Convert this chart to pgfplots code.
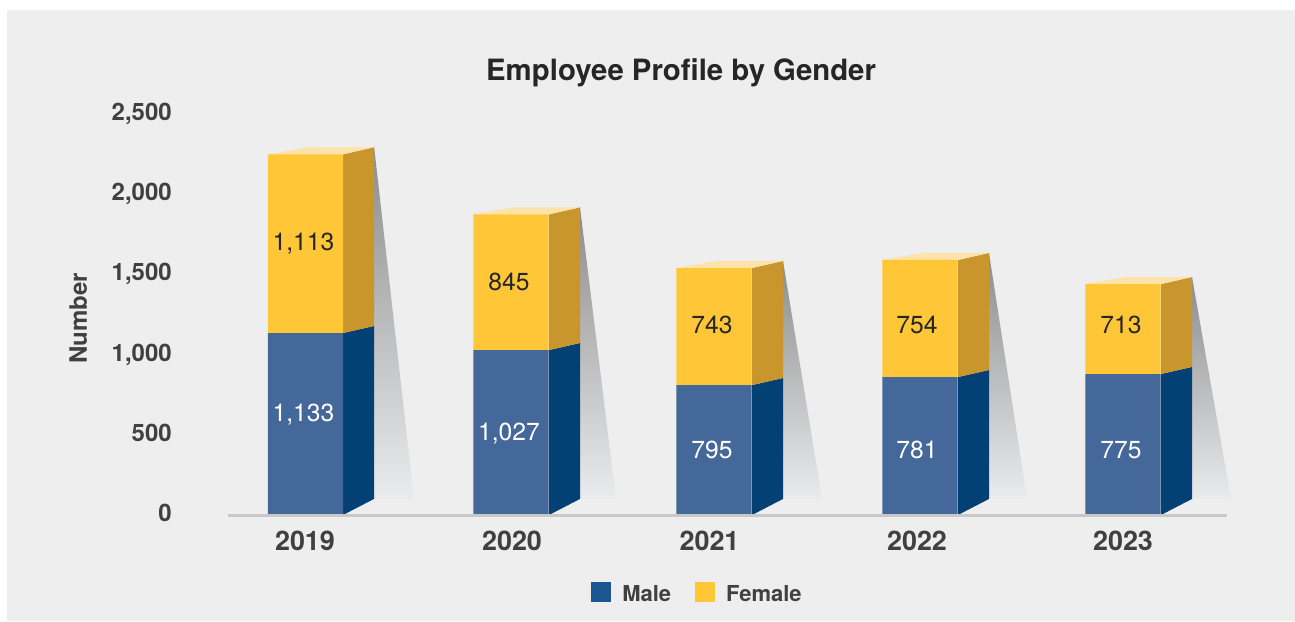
\documentclass[border=0pt]{standalone}
\usepackage{pgfplots}
\usepackage{pgfplotstable}
\usepackage{fontspec}
\setmainfont{TeX Gyre Heros}
\pgfplotsset{compat=1.18}
\definecolor{panel}{HTML}{EEEEEE}
\definecolor{maleface}{HTML}{44689A}
\definecolor{maleside}{HTML}{034074}
\definecolor{femface}{HTML}{FFC738}
\definecolor{femside}{HTML}{C8962C}
\definecolor{femtop}{HTML}{FDE3A9}
\definecolor{legblue}{HTML}{1A5791}
\definecolor{txt}{HTML}{404040}
\definecolor{axln}{HTML}{C8C8C8}
\pgfplotstableread{
x male female
305.5 1133 1113
511 1027 845
714 809 729
920 859 729
1123 878 560
}\bars
\pgfplotstableread{
x y label
303.5 635 1,133
509 517 1,027
712 405 795
917 405 781
1121 405 775
}\malelabels
\pgfplotstableread{
x y label
303.5 1700 1,113
509 1451 845
712 1183 743
917 1183 754
1121 1183 713
}\femlabels
\pgfplotsset{base/.style={
  at={(0,0)},anchor=origin,
  scale only axis,width=749.25pt,height=301.1pt,
  xmin=228,xmax=1227,ymin=0,ymax=2500,clip=false}}
\newcommand{\shadow}[1]{\addplot[draw=none,top color=shtop,middle color=shmid,bottom color=shbot] coordinates {#1} -- cycle;}
\colorlet{shtop}{black!45}
\colorlet{shmid}{black!25}
\definecolor{shbot}{HTML}{EAEBED}
\newcommand{\face}[2]{\addplot[draw=none,fill=#1] coordinates {#2} -- cycle;}
\begin{document}
\begin{tikzpicture}
\path[use as bounding box] (-171pt,-79.5pt) rectangle (800.25pt,386.25pt);
\fill[white] (-171pt,-79.5pt) rectangle (800.25pt,386.25pt);
\fill[panel] (-165.75pt,-79.5pt) rectangle (800.25pt,378.75pt);
\begin{axis}[base,hide axis]
\shadow{(374,2298) (414,100) (374,100)}
\shadow{(580,1916) (616,100) (580,100)}
\shadow{(783,1582) (822,100) (783,100)}
\shadow{(989,1632) (1027,100) (989,100)}
\shadow{(1192,1482) (1231,100) (1192,100)}
\face{maleside}{(343,0) (374,100) (374,1177) (343,1133)}
\face{femside}{(343,1133) (374,1177) (374,2290) (343,2246)}
\face{femtop}{(268,2246) (343,2246) (374,2290) (308,2290)}
\face{maleside}{(549,0) (580,100) (580,1071) (549,1027)}
\face{femside}{(549,1027) (580,1071) (580,1916) (549,1872)}
\face{femtop}{(473,1872) (549,1872) (580,1916) (513,1916)}
\face{maleside}{(752,0) (783,100) (783,853) (752,809)}
\face{femside}{(752,809) (783,853) (783,1582) (752,1538)}
\face{femtop}{(676,1538) (752,1538) (783,1582) (716,1582)}
\face{maleside}{(958,0) (989,100) (989,903) (958,859)}
\face{femside}{(958,859) (989,903) (989,1632) (958,1588)}
\face{femtop}{(882,1588) (958,1588) (989,1632) (922,1632)}
\face{maleside}{(1161,0) (1192,100) (1192,922) (1161,878)}
\face{femside}{(1161,878) (1192,922) (1192,1482) (1161,1438)}
\face{femtop}{(1085,1438) (1161,1438) (1192,1482) (1125,1482)}
\end{axis}
\begin{axis}[base,hide axis,ybar stacked,bar width=56.6pt]
\addplot[draw=none,fill=maleface] table[x=x,y=male] {\bars};
\addplot[draw=none,fill=femface] table[x=x,y=female] {\bars};
\end{axis}
\begin{axis}[base,
  axis x line=bottom,axis y line=left,
  x axis line style={-,draw=axln,line width=2pt,yshift=-0.3pt},
  y axis line style={draw=none},
  major tick length=0pt,
  /pgf/number format/assume math mode=true,
  ytick={0,500,1000,1500,2000,2500},
  yticklabels={0,500,{1,000},{1,500},{2,000},{2,500}},
  xtick={305,512,709.5,917,1123},
  xticklabels={2019,2020,2021,2022,2023},
  yticklabel style={font=\fontsize{18pt}{20pt}\selectfont\bfseries,text=txt,inner sep=0pt,text height=12.9pt,text depth=0pt,anchor=east,xshift=-42pt,yshift=1.4pt},
  xticklabel style={font=\fontsize{20.2pt}{22pt}\selectfont\bfseries,text=txt,inner sep=0pt,text height=14.4pt,text depth=0pt,anchor=north,yshift=-12pt},
  ylabel={Number},
  ylabel style={at={(rel axis cs:-0.15,0.49)},anchor=center,font=\fontsize{18pt}{20pt}\selectfont\bfseries,text=txt},
  title={Employee Profile by Gender},
  title style={at={(rel axis cs:0.4535,1.0634)},anchor=base,yshift=0pt,font=\fontsize{22pt}{24pt}\selectfont\bfseries,text=black!85},
  legend columns=2,
  legend cell align=left,
  legend style={at={(rel axis cs:0.3632,-0.197)},anchor=west,draw=none,fill=none,inner sep=0pt,
    font=\fontsize{16.5pt}{18pt}\selectfont\bfseries,text=txt,
    /tikz/every even column/.append style={column sep=15.7pt},
    /tikz/every odd column/.append style={column sep=6.75pt}},
]
\addlegendimage{legend image code/.code={\fill[legblue] (0,-5.25pt) rectangle (14.25pt,8.75pt);}}
\addlegendentry{Male}
\addlegendimage{legend image code/.code={\fill[femface] (0,-5.25pt) rectangle (14.25pt,8.75pt);}}
\addlegendentry{Female}
\addplot[forget plot,only marks,mark=none,nodes near coords,point meta=explicit symbolic,
  nodes near coords style={anchor=center,font=\fontsize{18.5pt}{20pt}\selectfont,text=white,inner sep=0pt,text height=13.3pt,text depth=0pt}]
  table[x=x,y=y,meta=label] {\malelabels};
\addplot[forget plot,only marks,mark=none,nodes near coords,point meta=explicit symbolic,
  nodes near coords style={anchor=center,font=\fontsize{18.5pt}{20pt}\selectfont,text=black!85,inner sep=0pt,text height=13.3pt,text depth=0pt}]
  table[x=x,y=y,meta=label] {\femlabels};
\end{axis}
\end{tikzpicture}
\end{document}
